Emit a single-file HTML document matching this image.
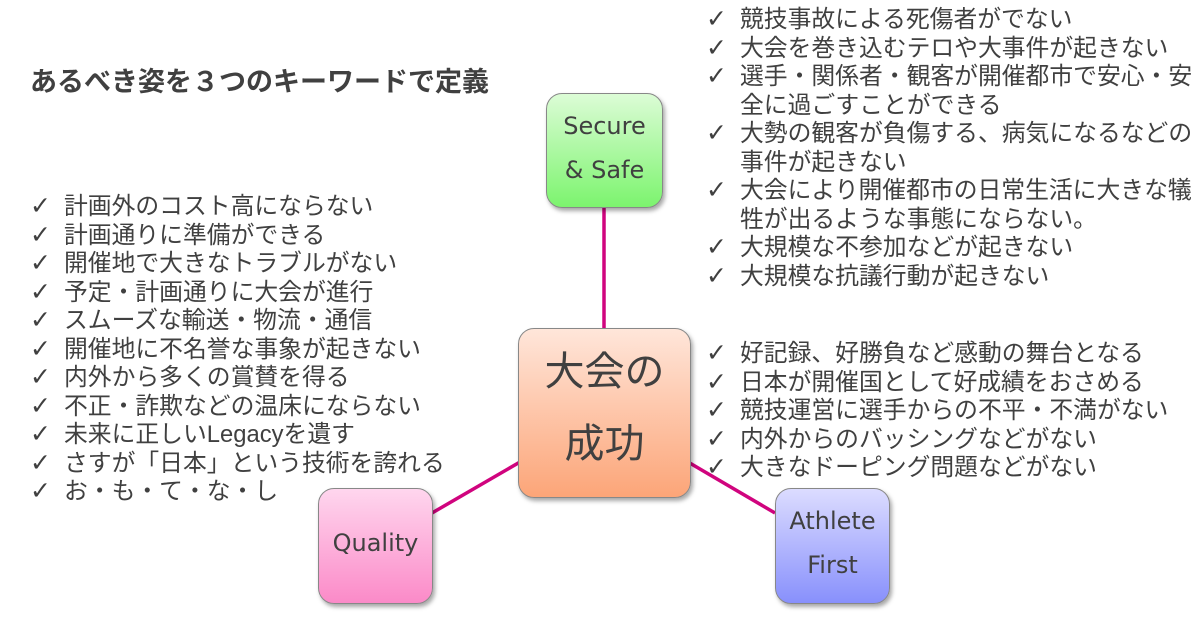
<!DOCTYPE html>
<html><head><meta charset="utf-8"><style>
body{margin:0;width:1200px;height:620px;background:#fff;position:relative;overflow:hidden;font-family:"Liberation Sans","Noto Sans CJK JP",sans-serif;color:#404040}
.t{position:absolute;left:30px;top:60px;font-size:27px;font-weight:bold}
ul{position:absolute;margin:0;padding:0;list-style:none;font-size:23.8px;line-height:28.5px}
li{position:relative;padding-left:34px;white-space:nowrap}
li:before{content:"✓";position:absolute;left:0;top:-1px;font-family:"DejaVu Sans",sans-serif;font-size:25px}
.b{position:absolute;border:1px solid #888;border-radius:16px;box-shadow:2px 3px 4px rgba(0,0,0,.35);display:flex;align-items:center;justify-content:center;text-align:center;font-family:"DejaVu Sans","Noto Sans CJK JP",sans-serif;font-size:24px;line-height:44px;color:#404040;padding-bottom:6px;box-sizing:border-box}
</style></head><body>
<svg width="1200" height="620" style="position:absolute;left:0;top:0">
<g stroke="#d0047e" stroke-width="3.5">
<line x1="604" y1="207" x2="604" y2="330"/>
<line x1="520" y1="462" x2="432" y2="513"/>
<line x1="688" y1="462" x2="775" y2="513"/>
</g></svg>
<div class="t">あるべき姿を３つのキーワードで定義</div>
<ul style="left:30px;top:193px">
<li>計画外のコスト高にならない</li><li>計画通りに準備ができる</li><li>開催地で大きなトラブルがない</li><li>予定・計画通りに大会が進行</li><li>スムーズな輸送・物流・通信</li><li>開催地に不名誉な事象が起きない</li><li>内外から多くの賞賛を得る</li><li>不正・詐欺などの温床にならない</li><li>未来に正しいLegacyを遺す</li><li>さすが「日本」という技術を誇れる</li><li>お・も・て・な・し</li></ul>
<ul style="left:706px;top:6px">
<li>競技事故による死傷者がでない</li><li>大会を巻き込むテロや大事件が起きない</li><li>選手・関係者・観客が開催都市で安心・安<br>全に過ごすことができる</li><li>大勢の観客が負傷する、病気になるなどの<br>事件が起きない</li><li>大会により開催都市の日常生活に大きな犠<br>牲が出るような事態にならない。</li><li>大規模な不参加などが起きない</li><li>大規模な抗議行動が起きない</li></ul>
<ul style="left:706px;top:340px">
<li>好記録、好勝負など感動の舞台となる</li><li>日本が開催国として好成績をおさめる</li><li>競技運営に選手からの不平・不満がない</li><li>内外からのバッシングなどがない</li><li>大きなドーピング問題などがない</li></ul>
<div class="b" style="left:546px;top:93px;width:117px;height:115px;background:linear-gradient(#dcfcd6,#7cf46e)">Secure<br>&amp; Safe</div>
<div class="b" style="left:518px;top:328px;width:173px;height:170px;background:linear-gradient(#ffe6da,#fca578);font-size:40px;line-height:72px;padding-bottom:10px">大会の<br>成功</div>
<div class="b" style="left:318px;top:488px;width:115px;height:116px;background:linear-gradient(#ffd6ee,#fb8ac8)">Quality</div>
<div class="b" style="left:775px;top:488px;width:115px;height:116px;background:linear-gradient(#dcdcff,#8890fc)">Athlete<br>First</div>
</body></html>
